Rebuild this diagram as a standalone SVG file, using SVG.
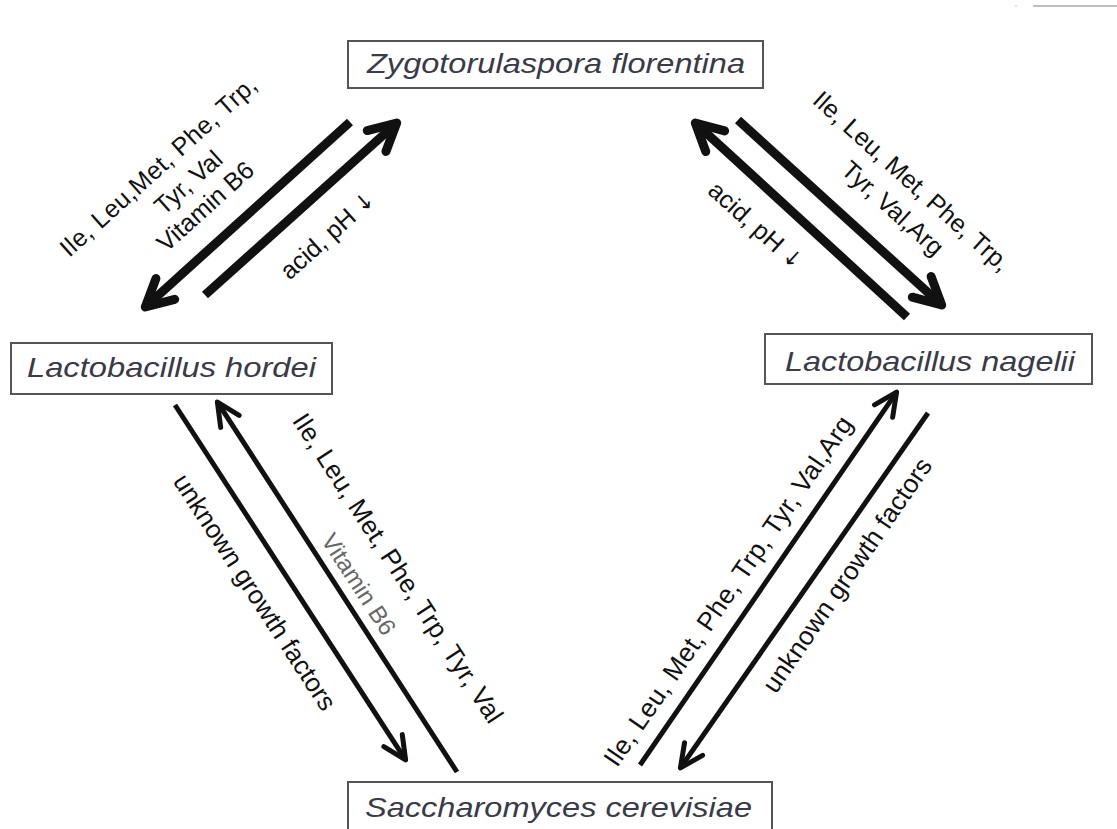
<svg xmlns="http://www.w3.org/2000/svg" width="1117" height="829" viewBox="0 0 1117 829">
<style>
.box{fill:#fff;stroke:#555;stroke-width:2}
.nt{font-family:"Liberation Sans",Arial,sans-serif;font-style:italic;font-size:28px;fill:#3a3a48;text-anchor:middle}
.lb{font-family:"Liberation Sans",Arial,sans-serif;font-size:25px;fill:#111;text-anchor:middle;dominant-baseline:central}
.lb2{font-family:"Liberation Sans",Arial,sans-serif;font-size:26px;fill:#111;text-anchor:middle;dominant-baseline:central}
.gray{fill:#666;font-size:24px}
.arr{font-family:"DejaVu Sans",sans-serif;font-size:22px}
.thick{fill:none;stroke:#111;stroke-width:9;stroke-linecap:butt}
.thin{fill:none;stroke:#111;stroke-width:5;stroke-linecap:butt}
</style>
<defs>
<marker id="headL" markerUnits="userSpaceOnUse" orient="auto" refX="0" refY="0" markerWidth="80" markerHeight="80" viewBox="-40 -40 80 80" overflow="visible">
<path d="M-27,-14 L0,0 L-27,14" fill="none" stroke="#111" stroke-width="9" stroke-linecap="round" stroke-linejoin="round"/>
</marker>
<marker id="headS" markerUnits="userSpaceOnUse" orient="auto" refX="0" refY="0" markerWidth="80" markerHeight="80" viewBox="-40 -40 80 80" overflow="visible">
<path d="M-23,-11 L0,0 L-23,11" fill="none" stroke="#111" stroke-width="5" stroke-linecap="round" stroke-linejoin="round"/>
</marker>
</defs>
<rect width="1117" height="829" fill="#fff"/>
<line x1="1033" y1="6" x2="1117" y2="6" stroke="#aaa" stroke-width="1.5"/>
<circle cx="1016" cy="6" r="1" fill="#ddd"/>

<g id="connectors">
<path class="thick" d="M350,122 L145.3,307" marker-end="url(#headL)"/>
<path class="thick" d="M205,295 L396.7,123" marker-end="url(#headL)"/>
<path class="thick" d="M907,317 L695.3,123" marker-end="url(#headL)"/>
<path class="thick" d="M738,120 L941.7,305" marker-end="url(#headL)"/>
<path class="thin" d="M175,405 L405.6,759.9" marker-end="url(#headS)"/>
<path class="thin" d="M457,772 L217.4,402.1" marker-end="url(#headS)"/>
<path class="thin" d="M640,765 L896.6,392.1" marker-end="url(#headS)"/>
<path class="thin" d="M928,413 L680.4,767.9" marker-end="url(#headS)"/>
</g>

<g id="labels">
<text class="lb" transform="translate(158,166) rotate(-42)" textLength="255">Ile, Leu,Met, Phe, Trp,</text>
<text class="lb" transform="translate(188,182) rotate(-42)">Tyr, Val</text>
<text class="lb" transform="translate(205,206) rotate(-42)">Vitamin B6</text>
<text class="lb" transform="translate(327,235) rotate(-42)">acid, pH <tspan class="arr">↓</tspan></text>

<text class="lb" transform="translate(912,181) rotate(42)" textLength="255">Ile, Leu, Met, Phe, Trp,</text>
<text class="lb" transform="translate(893,208) rotate(42)">Tyr, Val,Arg</text>
<text class="lb" transform="translate(756,225) rotate(42)">acid, pH <tspan class="arr">↓</tspan></text>

<text class="lb2" transform="translate(255,592) rotate(57)" textLength="276">unknown growth factors</text>
<text class="lb2" transform="translate(398,568) rotate(57)" textLength="363">Ile, Leu, Met, Phe, Trp, Tyr, Val</text>
<text class="lb2 gray" transform="translate(359,584) rotate(57)">Vitamin B6</text>

<text class="lb2" transform="translate(728,591) rotate(-55.5)" textLength="418">Ile, Leu, Met, Phe, Trp, Tyr, Val,Arg</text>
<text class="lb2" transform="translate(847,575) rotate(-55.5)" textLength="278">unknown growth factors</text>
</g>

<g id="zygo">
<rect class="box" x="348" y="41" width="415" height="47"/>
<text class="nt" x="556" y="73" textLength="378" lengthAdjust="spacingAndGlyphs">Zygotorulaspora florentina</text>
</g>
<g id="hordei">
<rect class="box" x="11" y="343" width="321" height="51"/>
<text class="nt" x="171.5" y="377" textLength="289" lengthAdjust="spacingAndGlyphs">Lactobacillus hordei</text>
</g>
<g id="nagelii">
<rect class="box" x="765" y="334" width="327" height="50"/>
<text class="nt" x="930" y="371" textLength="290" lengthAdjust="spacingAndGlyphs">Lactobacillus nagelii</text>
</g>
<g id="sacch">
<rect class="box" x="348" y="782" width="424" height="60"/>
<text class="nt" x="558.5" y="817" textLength="387" lengthAdjust="spacingAndGlyphs">Saccharomyces cerevisiae</text>
</g>
</svg>
